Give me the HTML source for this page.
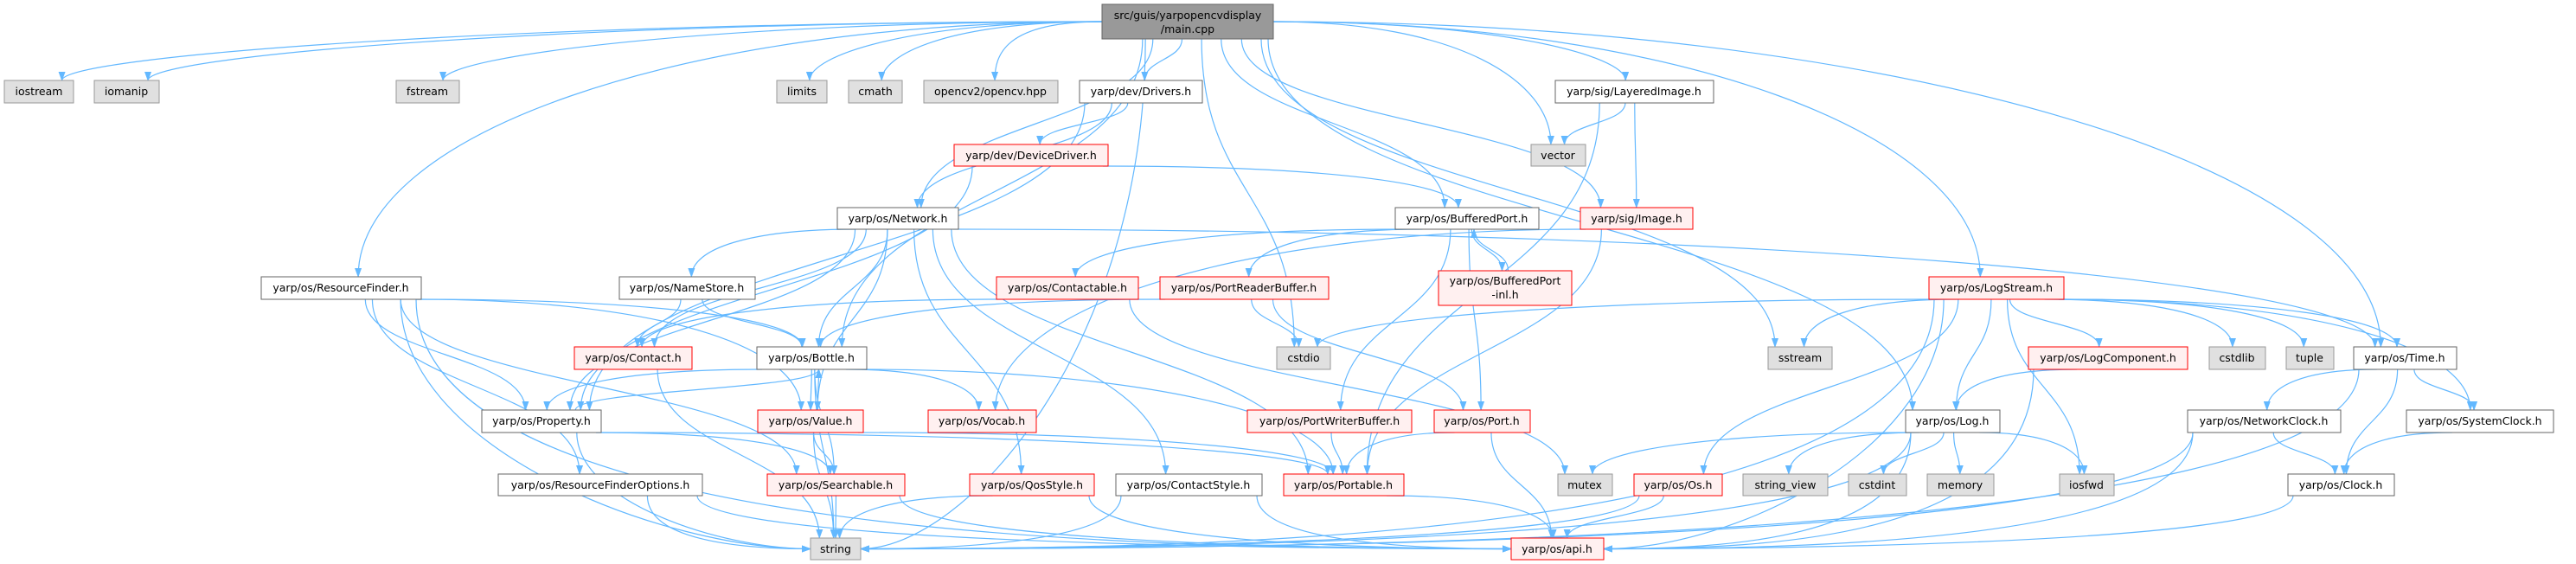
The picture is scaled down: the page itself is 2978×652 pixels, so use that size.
<!DOCTYPE html>
<html><head><meta charset="utf-8">
<style>
html,body{margin:0;padding:0;background:#fff;}
svg{display:block;}
text{font-family:"DejaVu Sans","Liberation Sans",sans-serif;font-size:12.5px;fill:#000;}
</style></head>
<body>
<svg id="g" width="2978" height="652" viewBox="0 0 2978 652" xmlns="http://www.w3.org/2000/svg">
<defs>
<marker id="a" markerWidth="11" markerHeight="8" refX="10" refY="4" orient="auto" markerUnits="userSpaceOnUse">
<path d="M0,0 L11,4 L0,8 z" fill="#63b8ff"/>
</marker>
</defs>
<g id="edges" fill="none" stroke="#63b8ff" stroke-width="1.2"></g>
<g id="nodes">
<rect x="1274" y="5" width="198" height="40" fill="#999" stroke="#666"/>
<text x="1373" y="22" text-anchor="middle">src/guis/yarpopencvdisplay</text>
<text x="1373" y="38" text-anchor="middle">/main.cpp</text>

<rect x="5" y="93" width="80" height="26" fill="#e0e0e0" stroke="#999"/><text x="45" y="110" text-anchor="middle">iostream</text>
<rect x="109" y="93" width="75" height="26" fill="#e0e0e0" stroke="#999"/><text x="146" y="110" text-anchor="middle">iomanip</text>
<rect x="458" y="93" width="73" height="26" fill="#e0e0e0" stroke="#999"/><text x="494" y="110" text-anchor="middle">fstream</text>
<rect x="898" y="93" width="58" height="26" fill="#e0e0e0" stroke="#999"/><text x="927" y="110" text-anchor="middle">limits</text>
<rect x="981" y="93" width="62" height="26" fill="#e0e0e0" stroke="#999"/><text x="1012" y="110" text-anchor="middle">cmath</text>
<rect x="1068" y="93" width="155" height="26" fill="#e0e0e0" stroke="#999"/><text x="1145" y="110" text-anchor="middle">opencv2/opencv.hpp</text>
<rect x="1248" y="93" width="142" height="26" fill="#fff" stroke="#666"/><text x="1319" y="110" text-anchor="middle">yarp/dev/Drivers.h</text>
<rect x="1798" y="93" width="183" height="26" fill="#fff" stroke="#666"/><text x="1889" y="110" text-anchor="middle">yarp/sig/LayeredImage.h</text>

<rect x="1103" y="167" width="178" height="25" fill="#fff0f0" stroke="#f00"/><text x="1192" y="184" text-anchor="middle">yarp/dev/DeviceDriver.h</text>
<rect x="1770" y="167" width="63" height="25" fill="#e0e0e0" stroke="#999"/><text x="1801" y="184" text-anchor="middle">vector</text>

<rect x="968" y="240" width="140" height="25" fill="#fff" stroke="#666"/><text x="1038" y="257" text-anchor="middle">yarp/os/Network.h</text>
<rect x="1613" y="240" width="166" height="25" fill="#fff" stroke="#666"/><text x="1696" y="257" text-anchor="middle">yarp/os/BufferedPort.h</text>
<rect x="1827" y="240" width="130" height="25" fill="#fff0f0" stroke="#f00"/><text x="1892" y="257" text-anchor="middle">yarp/sig/Image.h</text>

<rect x="302" y="320" width="185" height="26" fill="#fff" stroke="#666"/><text x="394" y="337" text-anchor="middle">yarp/os/ResourceFinder.h</text>
<rect x="716" y="320" width="157" height="26" fill="#fff" stroke="#666"/><text x="794" y="337" text-anchor="middle">yarp/os/NameStore.h</text>
<rect x="1152" y="320" width="164" height="26" fill="#fff0f0" stroke="#f00"/><text x="1234" y="337" text-anchor="middle">yarp/os/Contactable.h</text>
<rect x="1341" y="320" width="195" height="26" fill="#fff0f0" stroke="#f00"/><text x="1438" y="337" text-anchor="middle">yarp/os/PortReaderBuffer.h</text>
<rect x="1663" y="313" width="154" height="40" fill="#fff0f0" stroke="#f00"/><text x="1740" y="329" text-anchor="middle">yarp/os/BufferedPort</text><text x="1740" y="345" text-anchor="middle">-inl.h</text>
<rect x="2230" y="320" width="156" height="26" fill="#fff0f0" stroke="#f00"/><text x="2308" y="337" text-anchor="middle">yarp/os/LogStream.h</text>

<rect x="664" y="401" width="136" height="26" fill="#fff0f0" stroke="#f00"/><text x="732" y="418" text-anchor="middle">yarp/os/Contact.h</text>
<rect x="875" y="401" width="127" height="26" fill="#fff" stroke="#666"/><text x="938" y="418" text-anchor="middle">yarp/os/Bottle.h</text>
<rect x="1476" y="401" width="62" height="26" fill="#e0e0e0" stroke="#999"/><text x="1507" y="418" text-anchor="middle">cstdio</text>
<rect x="2044" y="401" width="74" height="26" fill="#e0e0e0" stroke="#999"/><text x="2081" y="418" text-anchor="middle">sstream</text>
<rect x="2345" y="401" width="184" height="26" fill="#fff0f0" stroke="#f00"/><text x="2437" y="418" text-anchor="middle">yarp/os/LogComponent.h</text>
<rect x="2554" y="401" width="65" height="26" fill="#e0e0e0" stroke="#999"/><text x="2586" y="418" text-anchor="middle">cstdlib</text>
<rect x="2643" y="401" width="55" height="26" fill="#e0e0e0" stroke="#999"/><text x="2670" y="418" text-anchor="middle">tuple</text>
<rect x="2721" y="401" width="119" height="26" fill="#fff" stroke="#666"/><text x="2780" y="418" text-anchor="middle">yarp/os/Time.h</text>

<rect x="557" y="474" width="138" height="26" fill="#fff" stroke="#666"/><text x="626" y="491" text-anchor="middle">yarp/os/Property.h</text>
<rect x="876" y="474" width="122" height="26" fill="#fff0f0" stroke="#f00"/><text x="937" y="491" text-anchor="middle">yarp/os/Value.h</text>
<rect x="1073" y="474" width="125" height="26" fill="#fff0f0" stroke="#f00"/><text x="1135" y="491" text-anchor="middle">yarp/os/Vocab.h</text>
<rect x="1442" y="474" width="190" height="26" fill="#fff0f0" stroke="#f00"/><text x="1537" y="491" text-anchor="middle">yarp/os/PortWriterBuffer.h</text>
<rect x="1658" y="474" width="111" height="26" fill="#fff0f0" stroke="#f00"/><text x="1713" y="491" text-anchor="middle">yarp/os/Port.h</text>
<rect x="2203" y="474" width="109" height="26" fill="#fff" stroke="#666"/><text x="2257" y="491" text-anchor="middle">yarp/os/Log.h</text>
<rect x="2529" y="474" width="177" height="26" fill="#fff" stroke="#666"/><text x="2617" y="491" text-anchor="middle">yarp/os/NetworkClock.h</text>
<rect x="2782" y="474" width="170" height="26" fill="#fff" stroke="#666"/><text x="2867" y="491" text-anchor="middle">yarp/os/SystemClock.h</text>

<rect x="576" y="548" width="236" height="25" fill="#fff" stroke="#666"/><text x="694" y="565" text-anchor="middle">yarp/os/ResourceFinderOptions.h</text>
<rect x="887" y="548" width="159" height="25" fill="#fff0f0" stroke="#f00"/><text x="966" y="565" text-anchor="middle">yarp/os/Searchable.h</text>
<rect x="1121" y="548" width="144" height="25" fill="#fff0f0" stroke="#f00"/><text x="1193" y="565" text-anchor="middle">yarp/os/QosStyle.h</text>
<rect x="1290" y="548" width="169" height="25" fill="#fff" stroke="#666"/><text x="1374" y="565" text-anchor="middle">yarp/os/ContactStyle.h</text>
<rect x="1484" y="548" width="139" height="25" fill="#fff0f0" stroke="#f00"/><text x="1553" y="565" text-anchor="middle">yarp/os/Portable.h</text>
<rect x="1801" y="548" width="63" height="25" fill="#e0e0e0" stroke="#999"/><text x="1832" y="565" text-anchor="middle">mutex</text>
<rect x="1889" y="548" width="102" height="25" fill="#fff0f0" stroke="#f00"/><text x="1940" y="565" text-anchor="middle">yarp/os/Os.h</text>
<rect x="2015" y="548" width="98" height="25" fill="#e0e0e0" stroke="#999"/><text x="2064" y="565" text-anchor="middle">string_view</text>
<rect x="2137" y="548" width="67" height="25" fill="#e0e0e0" stroke="#999"/><text x="2170" y="565" text-anchor="middle">cstdint</text>
<rect x="2228" y="548" width="77" height="25" fill="#e0e0e0" stroke="#999"/><text x="2266" y="565" text-anchor="middle">memory</text>
<rect x="2381" y="548" width="63" height="25" fill="#e0e0e0" stroke="#999"/><text x="2412" y="565" text-anchor="middle">iosfwd</text>
<rect x="2645" y="548" width="123" height="25" fill="#fff" stroke="#666"/><text x="2706" y="565" text-anchor="middle">yarp/os/Clock.h</text>

<rect x="937" y="622" width="58" height="25" fill="#e0e0e0" stroke="#999"/><text x="966" y="639" text-anchor="middle">string</text>
<rect x="1747" y="622" width="107" height="25" fill="#fff0f0" stroke="#f00"/><text x="1800" y="639" text-anchor="middle">yarp/os/api.h</text>
</g>
</svg>
<script>
var N={
main:[1274,5,1472,45],iostream:[5,93,85,119],iomanip:[109,93,184,119],fstream:[458,93,531,119],limits:[898,93,956,119],cmath:[981,93,1043,119],opencv:[1068,93,1223,119],drivers:[1248,93,1390,119],layered:[1798,93,1981,119],
devdrv:[1103,167,1281,192],vector:[1770,167,1833,192],
network:[968,240,1108,265],bport:[1613,240,1779,265],image:[1827,240,1957,265],
rf:[302,320,487,346],ns:[716,320,873,346],contactable:[1152,320,1316,346],prb:[1341,320,1536,346],inl:[1663,313,1817,353],logstream:[2230,320,2386,346],
contact:[664,401,800,427],bottle:[875,401,1002,427],cstdio:[1476,401,1538,427],sstream:[2044,401,2118,427],logcomp:[2345,401,2529,427],cstdlib:[2554,401,2619,427],tuple:[2643,401,2698,427],time:[2721,401,2840,427],
property:[557,474,695,500],value:[876,474,998,500],vocab:[1073,474,1198,500],pwb:[1442,474,1632,500],port:[1658,474,1769,500],log:[2203,474,2312,500],netclock:[2529,474,2706,500],sysclock:[2782,474,2952,500],
rfo:[576,548,812,573],searchable:[887,548,1046,573],qos:[1121,548,1265,573],cstyle:[1290,548,1459,573],portable:[1484,548,1623,573],mutex:[1801,548,1864,573],os:[1889,548,1991,573],sv:[2015,548,2113,573],cstdint:[2137,548,2204,573],memory:[2228,548,2305,573],iosfwd:[2381,548,2444,573],clock:[2645,548,2768,573],
string:[937,622,995,647],api:[1747,622,1854,647]};
var E=[
"main iostream","main iomanip","main fstream","main limits","main cmath","main opencv","main drivers","main layered","main vector","main network","main bport","main image","main rf","main bottle","main cstdio","main string","main sstream","main logstream","main log","main time",
"drivers devdrv","drivers network","drivers property","devdrv bport","devdrv property",
"layered vector","layered image","layered portable","image vocab","image portable",
"network ns","network contact","network property","network bottle","network value","network qos","network cstyle","network portable","network time",
"bport contactable","bport prb","bport inl","bport pwb","bport port","inl bport",
"contactable contact","contactable mutex","prb bottle","prb cstdio","prb port",
"rf bottle","rf property","rf value","rf searchable","rf rfo","rf string","rf api",
"ns contact","ns bottle","contact string",
"bottle property","bottle value","bottle searchable","bottle vocab","bottle portable","bottle string",
"value bottle","value searchable","value portable","value string",
"property bottle","property searchable","property portable","property string",
"pwb portable","port portable","port api","rfo string","rfo api","searchable string","searchable api",
"qos string","qos api","cstyle string","cstyle api","portable api","os string","os api",
"logstream cstdio","logstream sstream","logstream logcomp","logstream cstdlib","logstream tuple","logstream time","logstream sysclock","logstream log","logstream os","logstream string","logstream iosfwd","logstream api",
"logcomp log","logcomp api","log sv","log cstdint","log memory","log iosfwd","log mutex","log string","log api",
"time netclock","time sysclock","time clock","time string","netclock clock","netclock string","netclock api","sysclock clock","clock api"];
var g=document.getElementById('edges'),s='';
E.forEach(function(e){var p=e.split(' '),a=N[p[0]],b=N[p[1]];
var acx=(a[0]+a[2])/2,bcx=(b[0]+b[2])/2,sx,sy,tx,ty,d,path;
if(b[1]>=a[3]-2){
 var dy=b[1]-a[3],dx=bcx-acx;
 if(dy>2 && Math.abs(dx)>3*dy){
  // far horizontal edge: leave from side of source
  sx=dx<0?a[0]:a[2]; sy=(a[1]+a[3])/2+(p[0]=='main'?0:0);
  if(p[0]!='main'){sx=Math.max(a[0]+6,Math.min(a[2]-6,acx+dx*0.2));sy=a[3];}
  if((p[1]=='string'||p[1]=='api')&&Math.abs(dx)>250){
   tx=dx<0?b[2]:b[0]; ty=(b[1]+b[3])/2;
   path='M'+sx+','+sy+' C'+sx+','+(ty-10)+' '+(tx-dx*0.3)+','+ty+' '+tx+','+ty;
  }else{
   tx=Math.max(b[0]+8,Math.min(b[2]-8,bcx-dx*0.02)); ty=b[1];
   path='M'+sx+','+sy+' C'+(sx+dx*0.5)+','+sy+' '+tx+','+(ty-dy*0.6)+' '+tx+','+ty;
  }
 }else if(dy>2){
  sx=Math.max(a[0]+6,Math.min(a[2]-6,acx+dx*0.12)); sy=a[3];
  if((p[1]=='string'||p[1]=='api')&&Math.abs(dx)>250){
   tx=dx<0?b[2]:b[0]; ty=(b[1]+b[3])/2;
   path='M'+sx+','+sy+' C'+sx+','+(sy+(ty-sy)*0.6)+' '+(tx-dx*0.3)+','+ty+' '+tx+','+ty;
  }else{
   tx=Math.max(b[0]+8,Math.min(b[2]-8,bcx-dx*0.08)); ty=b[1]; d=(ty-sy)*0.5;
   path='M'+sx+','+sy+' C'+sx+','+(sy+d)+' '+tx+','+(ty-d)+' '+tx+','+ty;
  }
 }else{
  ty=(b[1]+b[3])/2; tx=bcx<acx?b[2]:b[0]; sy=ty; sx=bcx<acx?a[0]:a[2];
  path='M'+sx+','+sy+' L'+tx+','+ty;
 }
}else{
 sx=Math.max(a[0]+6,Math.min(a[2]-6,acx+(bcx-acx)*0.1+8)); sy=a[1];
 tx=Math.max(b[0]+6,Math.min(b[2]-6,bcx+8)); ty=b[3]; d=(ty-sy)*0.5;
 path='M'+sx+','+sy+' C'+sx+','+(sy+d)+' '+tx+','+(ty-d)+' '+tx+','+ty;
}
s+='<path d="'+path+'" marker-end="url(#a)"/>';
});
g.innerHTML=s;
</script>
</body></html>
